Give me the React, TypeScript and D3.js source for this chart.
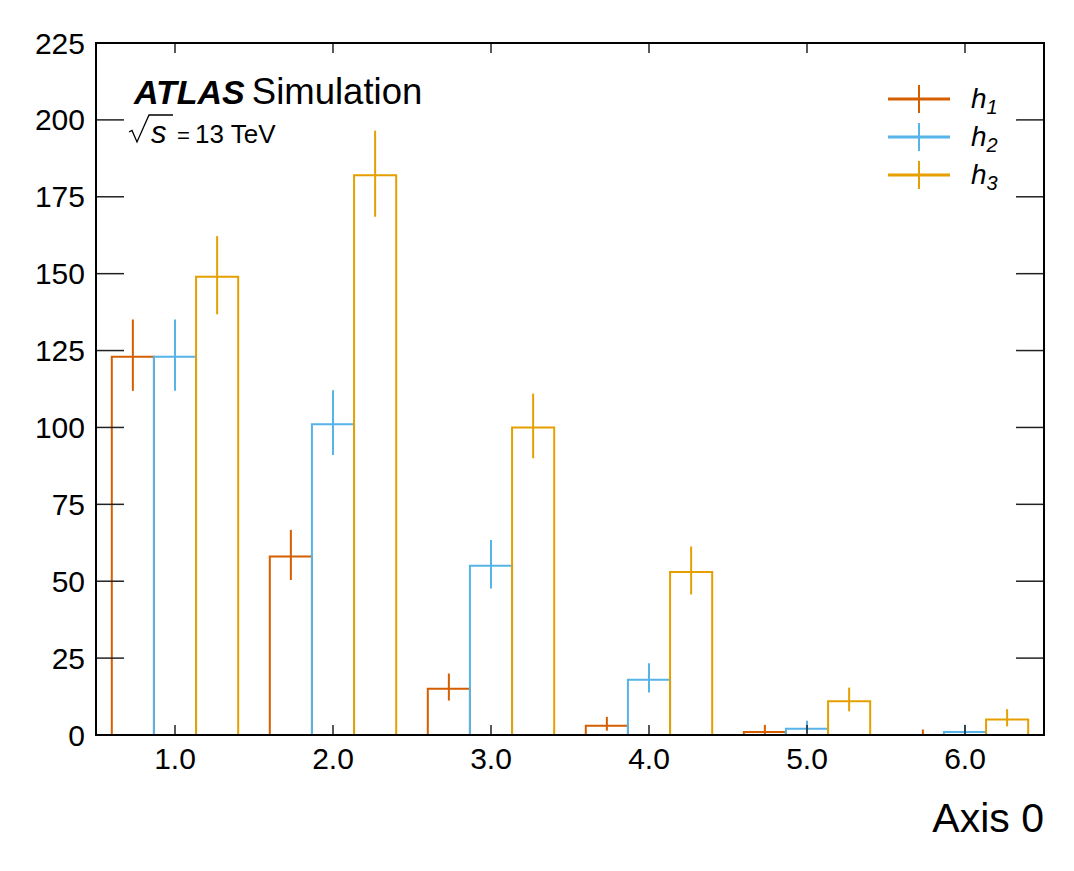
import React from "react";
import * as d3 from "d3";

const binCenters = [1, 2, 3, 4, 5, 6];
const xTickLabels = ["1.0", "2.0", "3.0", "4.0", "5.0", "6.0"];
const yTicks = [0, 25, 50, 75, 100, 125, 150, 175, 200, 225];

const seriesNames = ["h1", "h2", "h3"];
const seriesColors = ["#d55e00", "#56b4e9", "#e69f00"];

const h1Values = [123, 58, 15, 3, 1, 0];
const h2Values = [123, 101, 55, 18, 2, 1];
const h3Values = [149, 182, 100, 53, 11, 5];

// error bar extents (low, high) (Poisson intervals)
const h1ErrLow = [111.9, 50.4, 11.2, 1.4, 0.2, 0];
const h1ErrHigh = [135.1, 66.7, 20.0, 5.9, 3.3, 1.8];
const h2ErrLow = [111.9, 91.0, 47.6, 13.8, 0.7, 0.2];
const h2ErrHigh = [135.1, 112.1, 63.4, 23.3, 4.6, 3.3];
const h3ErrLow = [136.8, 168.5, 90.0, 45.7, 7.7, 2.8];
const h3ErrHigh = [162.2, 196.5, 111.0, 61.3, 15.4, 8.4];

const FONT = "'Liberation Sans', Arial, Helvetica, sans-serif";

const W = 1074;
const H = 871;
const margin = { left: 96, right: 1044, top: 43, bottom: 735 };

export default function App() {
  const x = d3.scaleLinear().domain([0.5, 6.5]).range([margin.left, margin.right]);
  const y = d3.scaleLinear().domain([0, 225]).range([margin.bottom, margin.top]);

  const series = [
    { name: seriesNames[0], color: seriesColors[0], values: h1Values, lo: h1ErrLow, hi: h1ErrHigh },
    { name: seriesNames[1], color: seriesColors[1], values: h2Values, lo: h2ErrLow, hi: h2ErrHigh },
    { name: seriesNames[2], color: seriesColors[2], values: h3Values, lo: h3ErrLow, hi: h3ErrHigh },
  ];
  const subW = 0.8 / 3;

  return (
    <svg
      width={W}
      height={H}
      style={{ position: "absolute", left: 0, top: 0, background: "#fff" }}
      fontFamily={FONT}
    >
      <rect x={0} y={0} width={W} height={H} fill="#fff" />
      {/* bars */}
      <g fill="none" strokeWidth={2}>
        {series.map((s, si) =>
          binCenters.map((c, bi) => {
            const l = c - 0.4 + si * subW;
            const r = l + subW;
            const v = s.values[bi];
            const path = d3.path();
            path.moveTo(x(l), y(0));
            path.lineTo(x(l), y(v));
            path.lineTo(x(r), y(v));
            path.lineTo(x(r), y(0));
            const xc = x((l + r) / 2);
            return (
              <g key={`${si}-${bi}`} stroke={s.color}>
                <path d={path.toString()} />
                <line x1={xc} x2={xc} y1={y(s.lo[bi])} y2={y(s.hi[bi])} />
              </g>
            );
          })
        )}
      </g>

      {/* ticks */}
      <g stroke="#222" strokeWidth={1.5}>
        {yTicks.map((t) => (
          <g key={t}>
            <line x1={margin.left} x2={margin.left + 28} y1={y(t)} y2={y(t)} />
            <line x1={margin.right} x2={margin.right - 28} y1={y(t)} y2={y(t)} />
          </g>
        ))}
        {binCenters.map((t) => (
          <g key={t}>
            <line x1={x(t)} x2={x(t)} y1={margin.bottom} y2={margin.bottom - 10} />
            <line x1={x(t)} x2={x(t)} y1={margin.top} y2={margin.top + 10} />
          </g>
        ))}
      </g>

      {/* frame */}
      <rect
        x={margin.left}
        y={margin.top}
        width={margin.right - margin.left}
        height={margin.bottom - margin.top}
        fill="none"
        stroke="#000"
        strokeWidth={2}
      />

      {/* tick labels */}
      <g fontSize={30} fill="#000">
        {yTicks.map((t) => (
          <text key={t} x={85} y={y(t) + 10.5} textAnchor="end">
            {t}
          </text>
        ))}
        {binCenters.map((t, i) => (
          <text key={t} x={x(t)} y={769} textAnchor="middle">
            {xTickLabels[i]}
          </text>
        ))}
      </g>

      {/* axis label */}
      <text x={margin.right} y={832} textAnchor="end" fontSize={41} fill="#000">
        Axis 0
      </text>

      {/* ATLAS label */}
      <text x={134} y={103.5} fontSize={34} fill="#000">
        <tspan fontWeight="bold" fontStyle="italic">ATLAS</tspan>
        <tspan dx={7} fontSize={36.5}>Simulation</tspan>
      </text>
      <path
        d="M129,132 L132,130.5 L137,142 L149,115 L173,115"
        fill="none"
        stroke="#000"
        strokeWidth={1.3}
      />
      <text x={151} y={142.5} fill="#000">
        <tspan fontStyle="italic" fontSize={31}>s</tspan>
        <tspan x={177} fontSize={22}>=</tspan>
        <tspan x={195} fontSize={26}>13 TeV</tspan>
      </text>

      {/* legend */}
      <g>
        {series.map((s, i) => {
          const ly = 99 + i * 38;
          return (
            <g key={s.name}>
              <line x1={888} x2={950} y1={ly} y2={ly} stroke={s.color} strokeWidth={3} />
              <line x1={919} x2={919} y1={ly - 14} y2={ly + 14} stroke={s.color} strokeWidth={2} />
              <text x={971} y={ly + 9} fontSize={28} fontStyle="italic" fill="#000">
                h
                <tspan fontSize={20} dy={6}>
                  {String(i + 1)}
                </tspan>
              </text>
            </g>
          );
        })}
      </g>
    </svg>
  );
}
